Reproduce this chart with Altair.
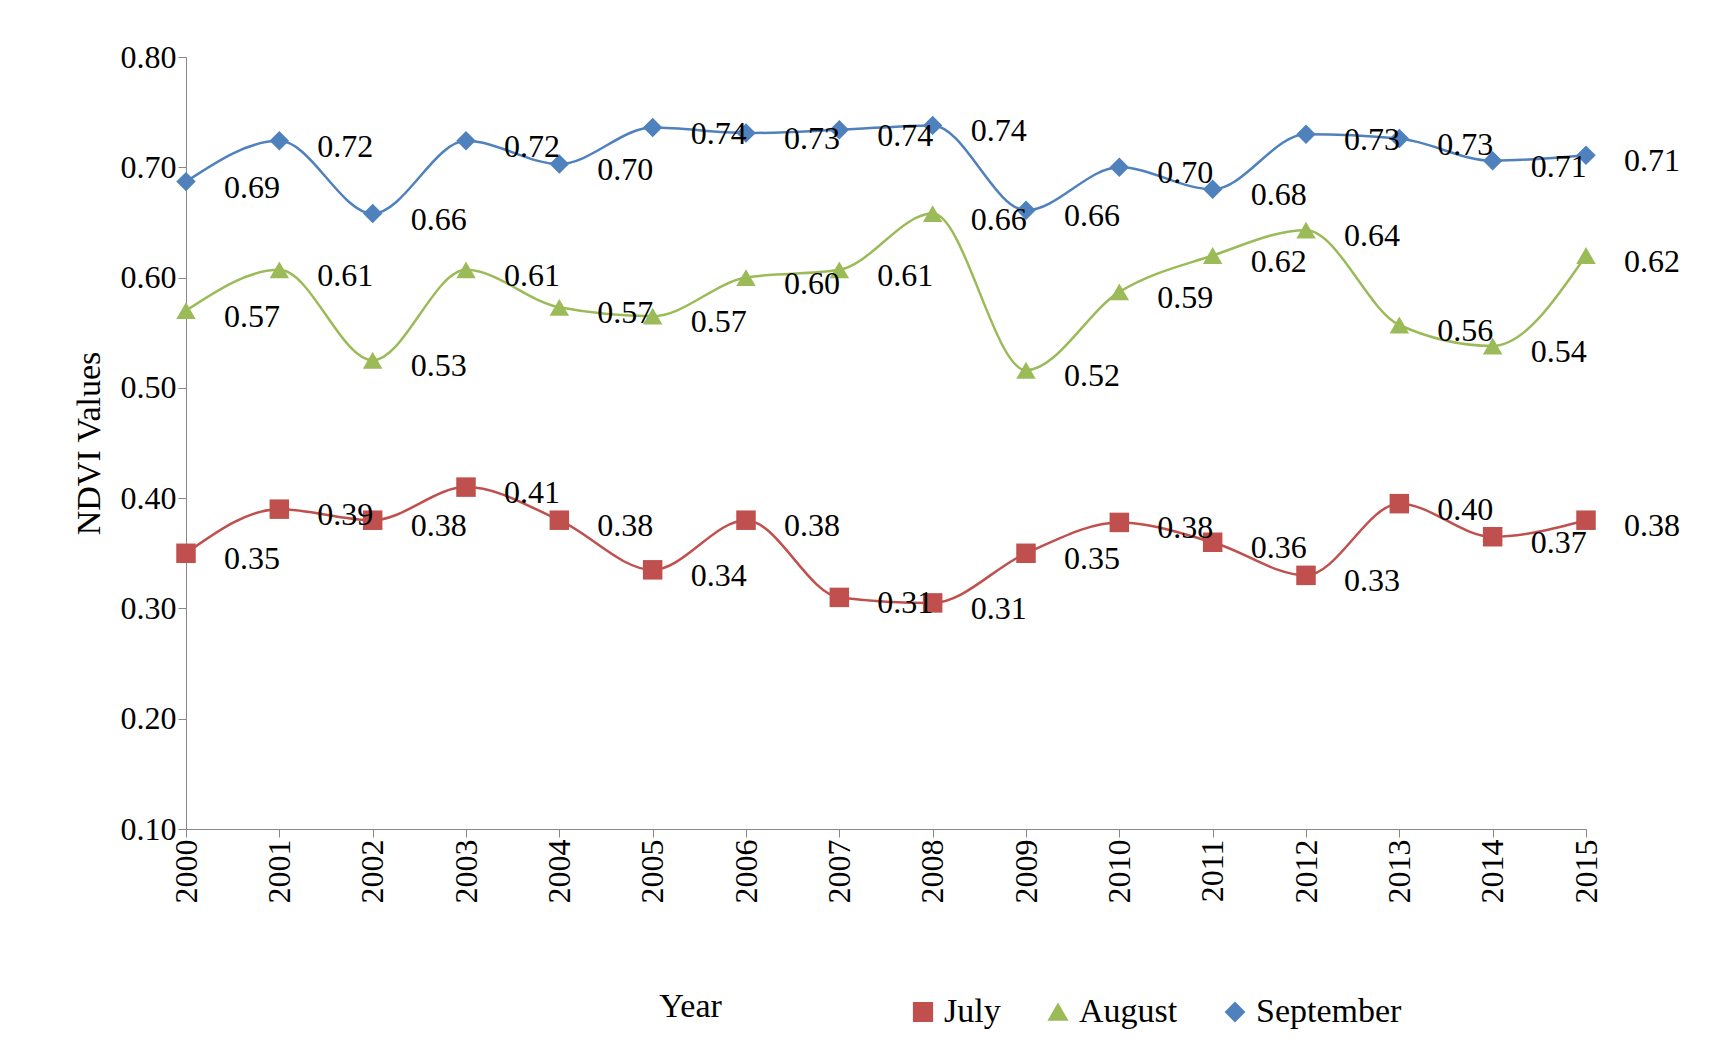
import pandas as pd
import altair as alt

years = list(range(2000, 2016))
july = [0.35, 0.39, 0.38, 0.41, 0.38, 0.335, 0.38, 0.31, 0.305, 0.35, 0.378, 0.36, 0.33, 0.395, 0.365, 0.38]
july_lbl = ["0.35", "0.39", "0.38", "0.41", "0.38", "0.34", "0.38", "0.31", "0.31", "0.35", "0.38", "0.36", "0.33", "0.40", "0.37", "0.38"]
august = [0.57, 0.607, 0.525, 0.607, 0.573, 0.565, 0.60, 0.607, 0.658, 0.516, 0.587, 0.62, 0.643, 0.557, 0.538, 0.62]
august_lbl = ["0.57", "0.61", "0.53", "0.61", "0.57", "0.57", "0.60", "0.61", "0.66", "0.52", "0.59", "0.62", "0.64", "0.56", "0.54", "0.62"]
september = [0.687, 0.724, 0.658, 0.724, 0.703, 0.736, 0.731, 0.734, 0.738, 0.661, 0.70, 0.68, 0.73, 0.726, 0.706, 0.711]
september_lbl = ["0.69", "0.72", "0.66", "0.72", "0.70", "0.74", "0.73", "0.74", "0.74", "0.66", "0.70", "0.68", "0.73", "0.73", "0.71", "0.71"]

rows = []
for name, vals, lbls in [("July", july, july_lbl), ("August", august, august_lbl), ("September", september, september_lbl)]:
    for y, v, l in zip(years, vals, lbls):
        rows.append({"year": y, "month": name, "ndvi": v, "label": l})
df = pd.DataFrame(rows)

months = ["July", "August", "September"]
colors = ["#C0504D", "#9BBB59", "#4F81BD"]
shapes = ["square", "triangle-up", "diamond"]
FONT = "Liberation Serif"

base = alt.Chart(df)

x = alt.X("year:Q", scale=alt.Scale(domain=[2000, 2015], nice=False),
          axis=alt.Axis(values=years, format="d", labelAngle=270, labelAlign="right",
                        labelBaseline="middle", grid=False, title="Year",
                        titleX=504, titleY=160, titleFontWeight="normal",
                        titleFontSize=34, labelFontSize=32, tickSize=8,
                        labelFont=FONT, titleFont=FONT, domainColor="#888", tickColor="#888",
                        labelColor="black"))
y = alt.Y("ndvi:Q", scale=alt.Scale(domain=[0.1, 0.8], nice=False),
          axis=alt.Axis(values=[0.1, 0.2, 0.3, 0.4, 0.5, 0.6, 0.7, 0.8], format=".2f", grid=False,
                        title="NDVI  Values", titleFontSize=34, titleFontWeight="normal",
                        labelFontSize=32, labelFont=FONT, titleFont=FONT, tickSize=8,
                        domainColor="#888", tickColor="#888", labelColor="black", titlePadding=14))
color = alt.Color("month:N", scale=alt.Scale(domain=months, range=colors),
                  legend=alt.Legend(title=None, orient="none", legendX=720, legendY=938,
                                    direction="horizontal", labelFontSize=34, labelFont=FONT,
                                    symbolSize=350, columnPadding=40, labelColor="black"))
shape = alt.Shape("month:N", scale=alt.Scale(domain=months, range=shapes), legend=None)

lines = base.mark_line(interpolate="monotone", strokeWidth=2.5).encode(x=x, y=y, color=color)
pts = base.mark_point(filled=True, size=380, opacity=1).encode(x=x, y=y, color=color, shape=shape)
labels = base.mark_text(align="left", dx=38, dy=6, fontSize=32, font=FONT, color="black").encode(
    x=x, y=y, text="label:N")

chart = (lines + pts + labels).properties(
    width=1400, height=772,
    padding={"left": 64, "top": 33, "right": 5, "bottom": 5},
).configure_view(stroke=None)
chart.save("out.html", embed_options={"renderer": "svg", "actions": False})
